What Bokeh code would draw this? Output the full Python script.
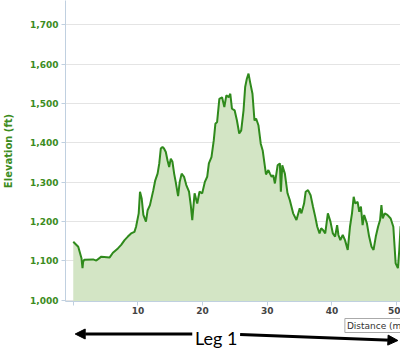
from bokeh.plotting import figure
from bokeh.layouts import column
from bokeh.models import Range1d, FixedTicker, NumeralTickFormatter, Arrow, NormalHead, Label
from bokeh.embed import file_html
from bokeh.resources import INLINE

# Distance along the route (miles)
miles = [0.0, 0.77, 1.27, 1.43, 1.53, 1.7, 3.07, 3.57, 4.34, 5.63, 6.13, 6.9, 7.41, 7.93, 8.44,
         8.94, 9.46, 9.71, 10.12, 10.32, 10.58, 10.84, 11.24, 11.5, 11.86, 12.38, 12.68, 13.04,
         13.3, 13.54, 13.8, 14.03, 14.31, 14.57, 14.83, 15.08, 15.34, 15.6, 15.84, 16.21, 16.46,
         16.76, 17.13, 17.48, 17.9, 18.17, 18.4, 18.76, 19.17, 19.52, 19.94, 20.35, 20.71, 20.97,
         21.37, 21.73, 21.98, 22.24, 22.59, 23.01, 23.36, 23.67, 24.03, 24.28, 24.54, 24.95, 25.31,
         25.66, 25.97, 26.33, 26.58, 26.84, 27.1, 27.35, 27.71, 28.02, 28.27, 28.63, 28.99, 29.29,
         29.8, 30.17, 30.41, 30.67, 30.93, 31.18, 31.6, 31.95, 32.1, 32.32, 32.72, 33.13, 33.48,
         34.0, 34.51, 35.02, 35.28, 35.69, 35.94, 36.3, 36.7, 37.07, 37.42, 37.73, 38.08, 38.34,
         38.6, 38.96, 39.37, 39.77, 40.14, 40.49, 40.8, 41.0, 41.3, 41.67, 42.02, 42.44, 42.79,
         43.1, 43.36, 43.6, 43.97, 44.22, 44.48, 44.74, 44.98, 45.4, 45.75, 46.12, 46.43, 46.78,
         47.13, 47.44, 47.65, 47.85, 48.16, 48.57, 49.08, 49.49, 49.85, 50.2, 50.41, 50.61, 51.0]

# Elevation (ft)
elevation = [1149, 1136, 1107, 1082, 1098, 1103, 1104, 1101, 1111, 1109, 1121, 1132, 1141, 1153, 1162,
             1170, 1174, 1187, 1221, 1276, 1259, 1217, 1200, 1229, 1242, 1280, 1305, 1322,
             1348, 1386, 1390, 1386, 1377, 1356, 1339, 1360, 1352, 1322, 1301, 1265, 1301,
             1322, 1314, 1293, 1276, 1242, 1204, 1272, 1246, 1276, 1272, 1301, 1314, 1348,
             1364, 1407, 1449, 1453, 1512, 1516, 1491, 1521, 1516, 1525, 1487, 1483, 1457,
             1424, 1432, 1483, 1542, 1563, 1576, 1554, 1525, 1457, 1462, 1445, 1398, 1381,
             1320, 1331, 1322, 1314, 1318, 1297, 1343, 1348, 1276, 1343, 1322, 1272, 1255,
             1221, 1204, 1234, 1221, 1246, 1276, 1280, 1267, 1238, 1212, 1187, 1170, 1183,
             1179, 1170, 1221, 1200, 1170, 1162, 1191, 1166, 1153, 1166, 1153, 1128, 1187,
             1221, 1263, 1246, 1250, 1225, 1238, 1191, 1217, 1196, 1162, 1136, 1128, 1162,
             1187, 1204, 1242, 1208, 1221, 1217, 1208, 1187, 1094, 1082, 1128, 1187, 1200]

x_ticks = [0, 10, 20, 30, 40, 50]
y_ticks = [1000, 1100, 1200, 1300, 1400, 1500, 1600, 1700]

LINE = "#2f8a1c"
FILL = "#d3e5c5"
LABEL_GREEN = "#3c8c1e"
AXIS = "#c0d0e0"

p = figure(width=400, height=317, output_backend="svg", toolbar_location=None,
           x_range=Range1d(-1.2, 50.6), y_range=Range1d(997, 1762),
           min_border_left=62, min_border_right=0, min_border_top=0, min_border_bottom=16)
p.outline_line_color = None
p.background_fill_color = "white"

p.varea(x=miles, y1=900, y2=elevation, fill_color=FILL, fill_alpha=1.0)
p.line(x=miles, y=elevation, line_color=LINE, line_width=2)

# axes
p.xaxis.ticker = FixedTicker(ticks=x_ticks)
p.xaxis.major_label_overrides = {0: ""}
p.xaxis.axis_line_color = AXIS
p.xaxis.major_tick_line_color = AXIS
p.xaxis.major_tick_out = 4
p.xaxis.major_tick_in = 0
p.xaxis.minor_tick_line_color = None
p.xaxis.major_label_standoff = 1
p.xaxis.major_label_text_font = "DejaVu Sans"
p.xaxis.major_label_text_font_style = "bold"
p.xaxis.major_label_text_font_size = "9px"
p.xaxis.major_label_text_color = "#444444"

p.yaxis.ticker = FixedTicker(ticks=y_ticks)
p.yaxis.formatter = NumeralTickFormatter(format="0,0")
p.yaxis.axis_line_color = AXIS
p.yaxis.major_tick_line_color = AXIS
p.yaxis.major_tick_out = 4
p.yaxis.major_tick_in = 0
p.yaxis.minor_tick_line_color = None
p.yaxis.major_label_standoff = 3
p.yaxis.major_label_text_font = "DejaVu Sans"
p.yaxis.major_label_text_font_style = "bold"
p.yaxis.major_label_text_font_size = "9px"
p.yaxis.major_label_text_color = LABEL_GREEN
p.yaxis.axis_label = "Elevation (ft)"
p.yaxis.axis_label_text_font = "DejaVu Sans"
p.yaxis.axis_label_text_font_style = "bold"
p.yaxis.axis_label_text_font_size = "10px"
p.yaxis.axis_label_text_color = LABEL_GREEN
p.yaxis.axis_label_standoff = 13

p.xgrid.grid_line_color = None
p.ygrid.grid_line_color = "#e4e4e4"
p.ygrid.grid_line_width = 1

# Strip below the chart: caption box and "Leg 1" arrow (shares the distance scale)
q = figure(width=400, height=39, output_backend="svg", toolbar_location=None,
           x_range=p.x_range, y_range=Range1d(356, 317),
           min_border_left=62, min_border_right=0, min_border_top=0, min_border_bottom=0)
q.outline_line_color = None
q.axis.visible = False
q.grid.visible = False
q.background_fill_color = "white"

q.add_layout(Label(x=42.0, y=325, text="Distance (mi)", text_font="DejaVu Sans",
                   text_font_size="9px", text_color="#333333", text_baseline="middle",
                   border_line_color="#aaaaaa", background_fill_color="white",
                   padding=2))

head = dict(size=10, fill_color="black", line_color="black")
q.add_layout(Arrow(end=NormalHead(**head), x_start=18.4, y_start=333.5, x_end=0.3, y_end=333.5,
                   line_color="black", line_width=3))
q.add_layout(Arrow(end=NormalHead(**head), x_start=25.8, y_start=334, x_end=50.2, y_end=340,
                   line_color="black", line_width=3))
q.add_layout(Label(x=22.1, y=337, text="Leg 1", text_font="Lato", text_font_size="18px",
                   text_color="black", text_align="center", text_baseline="alphabetic"))

open("out.html", "w").write(file_html(column(p, q, spacing=0), INLINE))
